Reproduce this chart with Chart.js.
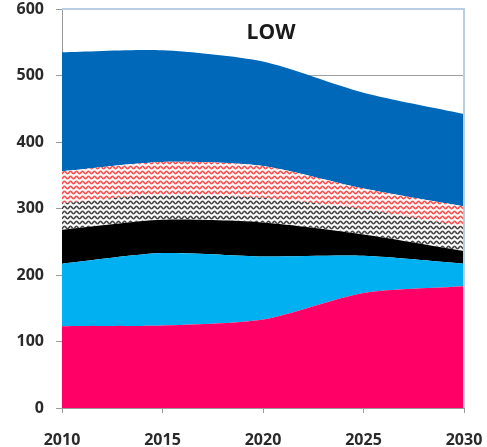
<!DOCTYPE html>
<html lang="en">
<head>
  <meta charset="UTF-8">
  <script src="https://cdn.jsdelivr.net/npm/chart.js"></script>
  <title>LOW</title>
  <style>
    body { margin: 0; background: #fff; }
    #wrap { width: 487px; height: 447px; }
  </style>
</head>
<body>
  <div id="wrap">
    <canvas id="myChart"></canvas>
  </div>
  <script>
    const years = [2010, 2015, 2020, 2025, 2030]
    const yTicks = [0, 100, 200, 300, 400, 500, 600]

    // layer heights, bottom to top
    const pinkVals = [123, 124, 133, 173, 183]
    const cyanVals = [94, 109, 95, 56, 34]
    const blackVals = [51, 50, 51, 32, 19]
    const grayVals = [40, 38, 37, 38, 37]
    const redVals = [48, 49, 48, 31, 30]
    const blueVals = [179, 168, 157, 144, 139]

    const ctx = document.getElementById('myChart')

    function wavePattern(color) {
      const c = document.createElement('canvas')
      c.width = 6
      c.height = 5
      const g = c.getContext('2d')
      g.fillStyle = '#fff'
      g.fillRect(0, 0, 6, 5)
      g.strokeStyle = color
      g.lineWidth = 1.6
      g.beginPath()
      for (let x = -1; x <= 7; x += 0.5) {
        const y = 2.5 + 1.2 * Math.sin(2 * Math.PI * x / 6)
        if (x === -1) g.moveTo(x, y)
        else g.lineTo(x, y)
      }
      g.stroke()
      return g.createPattern(c, 'repeat')
    }

    function layer(label, vals, color, first) {
      return {
        label: label,
        data: vals.map((v, i) => ({ x: years[i], y: v })),
        backgroundColor: color,
        borderColor: color,
        borderWidth: 0,
        pointRadius: 0,
        tension: 0.25,
        fill: first ? 'origin' : '-1'
      }
    }

    const frame = {
      id: 'frame',
      afterDatasetsDraw(chart) {
        const a = chart.chartArea
        const c = chart.ctx
        c.save()
        c.strokeStyle = '#b9cde5'
        c.lineWidth = 2
        c.beginPath()
        c.moveTo(a.left, a.top)
        c.lineTo(a.right, a.top)
        c.lineTo(a.right, a.bottom)
        c.stroke()
        c.fillStyle = '#1a1a1a'
        c.font = 'bold 21px "Open Sans"'
        c.textAlign = 'center'
        c.textBaseline = 'middle'
        c.fillText('LOW', 271, 33)
        c.restore()
      }
    }

    new Chart(ctx, {
      type: 'line',
      data: {
        datasets: [
          layer('A', pinkVals, '#ff0066', true),
          layer('B', cyanVals, '#00b0f0'),
          layer('C', blackVals, '#000000'),
          layer('D', grayVals, wavePattern('#4a4a4a')),
          layer('E', redVals, wavePattern('#ff5050')),
          layer('F', blueVals, '#0068b8')
        ]
      },
      options: {
        responsive: true,
        maintainAspectRatio: false,
        animation: false,
        layout: { padding: { top: 9, right: 23, left: 0, bottom: 0 } },
        plugins: { legend: { display: false }, tooltip: { enabled: false } },
        scales: {
          x: {
            type: 'linear',
            min: 2010,
            max: 2030,
            afterBuildTicks: (s) => { s.ticks = years.map(v => ({ value: v })) },
            afterFit: (s) => {
              s.height = 39
              s.paddingLeft = 0
              s.paddingRight = 0
            },
            grid: { drawOnChartArea: false, tickLength: 5, color: '#9a9a9a' },
            border: { color: '#9a9a9a', width: 1 },
            ticks: {
              color: '#2a2a2a',
              font: { family: 'Open Sans', weight: 'bold', size: 16 },
              padding: 18,
              maxRotation: 0,
              callback: (v) => String(v)
            }
          },
          y: {
            stacked: true,
            min: 0,
            max: 600,
            afterBuildTicks: (s) => { s.ticks = yTicks.map(v => ({ value: v })) },
            afterFit: (s) => {
              s.width = 62
              s.paddingTop = 0
              s.paddingBottom = 0
            },
            grid: {
              color: (c) => c.tick && c.tick.value === 600 ? 'rgba(0,0,0,0)' : '#a0a0a0',
              tickColor: '#9a9a9a',
              tickLength: 6
            },
            border: { color: '#9a9a9a', width: 1 },
            ticks: {
              color: '#2a2a2a',
              font: { family: 'Open Sans', weight: 'bold', size: 16 },
              padding: 12
            }
          }
        }
      },
      plugins: [frame]
    })
  </script>
</body>
</html>
